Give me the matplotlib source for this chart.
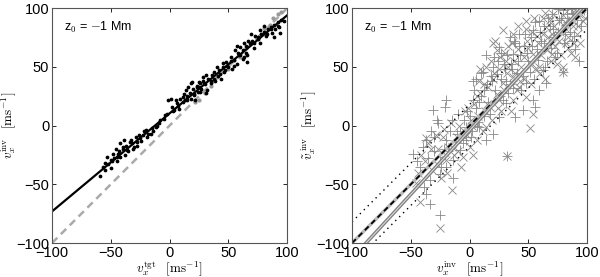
import numpy as np
import matplotlib
matplotlib.use('Agg')
import matplotlib.pyplot as plt

plt.rcParams['font.family'] = ['Liberation Sans', 'DejaVu Sans']
plt.rcParams['mathtext.fontset'] = 'cm'

# left panel: target vs inverted flow (black dots), plus a few grey dots on y=x
left_x = [-59, -57, -55, -53, -50, -48, -46, -45, -43, -42, -40, -39, -36, -33, -32, -30,
          -28, -25, -23, -22, -19, -16, -15, -14, -11, -8, -5, -4, -2, -1, 1, 2, 4, 5, 6,
          9, 11, 12, 14, 15, 16, 18, 19, 21, 22, 23, 25, 26, 28, 29, 31, 32, 35, 38, 39,
          40, 43, 45, 46, 49, 52, 55, 56, 57, 59, 60, 62, 63, 65, 66, 67, 69, 72, 75, 77,
          80, 83, 86, 89, 92, 94, 97,
          -55, -52, -50, -49, -47, -45, -44, -42, -40, -38, -37, -35, -34, -31, -29, -28,
          -26, -24, -20, -18, -12, -9, 3, 7, 8, 11, 13, 15, 17, 18, 20, 21, 23, 24, 25, 26,
          27, 28, 30, 31, 33, 35, 36, 38, 41, 42, 44, 45, 47, 48, 50, 52, 53, 55, 57, 58,
          60, 62, 63, 65, 66, 68, 70, 72, 73, 75, 77, 78, 80, 82, 84, 86, 87, 89, 90, 92,
          93, 95]
left_y = [-43, -35, -32, -27, -29, -24, -20, -27, -22, -15, -18, -12, -21, -12, -15, -18,
          -14, -11, -8, -5, -10, -7, -2, -5, 0, 5, 6, 9, 10, 22, 23, 16, 13, 22, 19,
          23, 24, 27, 30, 22, 33, 36, 37, 27, 22, 33, 37, 29, 41, 36, 43, 30, 38, 46, 38,
          50, 44, 53, 46, 51, 55, 51, 64, 68, 60, 67, 57, 70, 62, 54, 72, 78, 70, 75, 81,
          85, 78, 82, 75, 85, 79, 89,
          -38, -33, -36, -30, -28, -30, -24, -27, -20, -25, -17, -22, -14, -20, -10, -17,
          -8, -13, -4, -7, -1, 2, 12, 17, 14, 20, 22, 25, 28, 23, 31, 26, 34, 29, 33, 36,
          31, 38, 35, 28, 40, 36, 43, 40, 42, 47, 40, 50, 47, 54, 50, 58, 48, 56, 52, 62,
          60, 64, 58, 68, 60, 70, 72, 66, 76, 74, 70, 78, 80, 76, 82, 84, 79, 86, 82, 88,
          84, 90]
left_grey_x = [22, 25, 30, 35, 40, 50, 55, 60, 65, 70, 75, 80, 85, 88, 92, 95]
left_grey_y = [20, 22, 28, 34, 41, 48, 56, 58, 66, 71, 74, 83, 86, 92, 95, 97]
left_fit = (0.835, 10.4)  # slope, intercept of the black line

# right panel: two sets of grey markers
plus_x = [-28, -31, -21, -20, 3, 4, 3, 11, 20, 25, 39, 37, 42, 54, 59, 70, 79, 82, 87, 93,
          62, 48, 59, 65, 54, 56, 45, 39, 31, 25, 20, 14, 8, -3, -8, -14, -20, -25, -34,
          -39, -37, -34, -25, -42, -48, -37, -20, -11, -3, -25, -14, 32, 79,
          -45, -40, -33, -30, -27, -22, -17, -15, -10, -6, -5, 0, 2, 5, 7, 10, 12, 15, 16,
          18, 22, 24, 27, 28, 30, 32, 34, 35, 38, 40, 43, 44, 46, 50, 52, 55, 57, 60, 63,
          66, 68, 72, 74, 76, 80, 83, 85, 88, 90, 95, 97, 92, 86, 75,
          5, 8, 10, 12, 14, 17, 19, 21, 23, 26, 27, 29, 31, 33, 34, 36, 37, 41, 42, 45,
          47, 49, 51, 53, 56, 58, 61, 63, 64, 67, 69, 71, 73, 75, 78, 81, 84, 87, 89, 91,
          94, -35, -30, -24, -18, -12, -8, -2, 1, 6]
plus_y = [5, 13, 16, 22, 22, 30, 38, 46, 50, 67, 70, 61, 78, 81, 89, 95, 98, 86, 72, 55,
          47, 36, 30, 36, 22, 16, 13, 7, 19, 7, -7, -12, -1, -12, -21, -29, -35, -41, -46,
          -52, -58, -67, -76, -35, -24, -12, -12, -7, -1, -27, -45, -26, 46,
          -30, -18, -5, -22, 2, -20, -5, 5, 10, -15, 5, 8, -5, 15, 3, 25, 8, 35, 20,
          42, 30, 55, 40, 22, 48, 60, 35, 52, 72, 45, 60, 30, 68, 55, 75, 40, 65, 80, 70,
          55, 85, 75, 62, 90, 70, 95, 80, 92, 65, 85, 98, 100, 99, 99,
          40, 20, 45, 30, 60, 10, 38, 58, 44, 25, 62, 52, 38, 28, 75, 48, 32, 55, 68, 42,
          78, 62, 46, 68, 88, 56, 72, 85, 50, 92, 66, 82, 58, 80, 92, 78, 88, 96, 76, 90,
          97, -28, -10, -35, -22, -14, -5, 12, -10, 0]
cross_x = [-37, -25, -15, -42, -46, -20, -6, -11, 0, 6, 14, 17, 25, 28, 37, 42, 48, 54, 51,
           32, 31, 23, 14, 8, 54, 59, 70, 79, 82, 90, 96, 76, 65, 48, 37, 28, 20, 90, 70,
           37, 23, 79,
           -44, -41, -38, -35, -32, -29, -27, -24, -22, -18, -16, -13, -9, -7, -4, -2, 1,
           3, 4, 7, 9, 11, 13, 16, 19, 21, 24, 26, 29, 32, 33, 35, 38, 40, 41, 44, 46, 49,
           52, 53, 56, 58, 61, 62, 64, 67, 69, 71, 73, 77, 78, 81, 84, 86, 88, 91, 93, 94,
           98, 85,
           6, 9, 12, 15, 18, 20, 22, 25, 27, 30, 33, 36, 39, 41, 43, 46, 48, 50, 53, 55,
           57, 60, 62, 64, 66, 68, 70, 72, 74, 76, 79, 82, 84, 87, 89, 92, 95, -33, -28,
           -23, -19, -15, -10, -5, -1, 2]
cross_y = [-11, -87, -55, -65, -49, -29, -27, -10, -18, -12, -1, 16, 22, 36, 41, 33, 24, 10,
           -2, -26, 55, 64, 50, 38, 61, 50, 61, 50, 70, 58, 89, 89, 84, 89, 78, 81, 70, 98,
           78, 22, 27, 46,
           -40, -25, -30, -15, -38, -8, -20, -45, -3, -18, 2, -25, 0, -35, 12, -8, 5,
           -25, 18, 8, 28, -5, 12, 33, 5, 45, 15, 58, 30, 45, 68, 12, 55, 30, 65, 50, 40,
           72, 35, 80, 48, 70, 60, 92, 40, 75, 55, 95, 68, 80, 60, 88, 75, 62, 85, 78, 95,
           70, 92, 100,
           25, 48, 35, 18, 55, 40, 72, 48, 12, 62, 50, 70, 45, 85, 38, 58, 82, 66, 52, 92,
           76, 45, 78, 96, 64, 90, 70, 85, 52, 72, 94, 82, 66, 90, 70, 85, 100, -20, -33,
           -10, -40, -18, -22, -10, 15, 0]
right_fit = (1.09, -4.0)  # slope, intercept of the grey line
band = 18                 # offset of the dotted lines from y = x

ticks = [-100, -50, 0, 50, 100]
xline = np.array([-100.0, 100.0])

fig = plt.figure(figsize=(6.0, 2.77), dpi=100)
ax1 = fig.add_axes([0.0867, 0.1227, 0.392, 0.848])
ax2 = fig.add_axes([0.5867, 0.1227, 0.392, 0.848])

# left
ax1.plot(xline, xline, color='#aaaaaa', lw=1.8, ls=(0, (3, 2)))
ax1.plot(left_grey_x, left_grey_y, ls='none', marker='o', ms=2, color='#999999')
ax1.plot(xline, left_fit[0] * xline + left_fit[1], color='black', lw=1.6)
ax1.plot(left_x, left_y, ls='none', marker='o', ms=1.7, color='black')
ax1.set_xlabel(r'$v_x^{\rm tgt}\;\;\;[{\rm ms}^{-1}]$', fontsize=9.5)
ax1.set_ylabel(r'$v_x^{\rm inv}\;\;\;[{\rm ms}^{-1}]$', fontsize=9.5)

# right
ax2.plot(plus_x, plus_y, ls='none', marker='+', ms=6.5, mew=0.6, color='#888888')
ax2.plot(cross_x, cross_y, ls='none', marker='x', ms=5.2, mew=0.6, color='#888888')
ax2.plot(xline, xline + band, color='black', lw=1.0, ls=(0, (1, 3)))
ax2.plot(xline, xline - band, color='black', lw=1.0, ls=(0, (1, 3)))
ax2.plot(xline, xline, color='#bbbbbb', lw=2.5)
ax2.plot(xline, xline, color='black', lw=1.3, ls=(0, (3, 2)))
ax2.plot(xline, right_fit[0] * xline + right_fit[1], color='#808080', lw=2.6)
ax2.plot(xline, right_fit[0] * xline + right_fit[1], color='#e0e0e0', lw=0.7)
ax2.set_xlabel(r'$v_x^{\rm inv}\;\;\;[{\rm ms}^{-1}]$', fontsize=9.5)
ax2.set_ylabel(r'$\tilde{v}_x^{\;\rm inv}\;\;\;[{\rm ms}^{-1}]$', fontsize=9.5)

for ax in (ax1, ax2):
    ax.set_xlim(-100, 100)
    ax.set_ylim(-100, 100)
    ax.set_xticks(ticks)
    ax.set_yticks(ticks)
    ax.tick_params(direction='in', length=3, width=0.6, top=True, right=True,
                   labelsize=10.5, pad=2, colors='black')
    for s in ax.spines.values():
        s.set_color('#555555')
        s.set_linewidth(0.8)
    ax.xaxis.set_label_coords(0.5, -0.068)
    ax.yaxis.set_label_coords(-0.145, 0.5)
    ax.text(0.05, 0.95, r'z$_0$ = $-$1 Mm', transform=ax.transAxes,
            fontsize=9, va='top', ha='left')

fig.savefig('out.png', dpi=100)
